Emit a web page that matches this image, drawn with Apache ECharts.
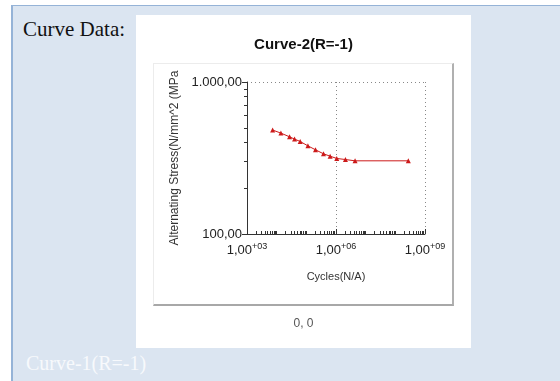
<!DOCTYPE html>
<html>
<head>
<meta charset="utf-8">
<script src="https://cdn.jsdelivr.net/npm/echarts@6/dist/echarts.min.js"></script>
<style>
  html, body { margin: 0; padding: 0; width: 560px; height: 381px; background: #ffffff; overflow: hidden; }
  #bg { position: absolute; left: 11px; top: 5px; width: 547px; height: 376px; background: #dbe5f1;
        border-left: 2px solid #95b3d7; border-top: 1px solid #95b3d7; border-right: 1px solid #cfdcee; }
  .lbl { position: absolute; font-family: "Liberation Serif", "Times New Roman", serif; font-size: 21px; line-height: 24px; white-space: nowrap; }
  #t1 { left: 23px; top: 17px; color: #111; }
  #t2 { left: 26px; top: 351px; color: #f7f9fc; font-size: 20px; }
  #white { position: absolute; left: 136px; top: 15px; width: 335px; height: 333px; background: #ffffff; }
  #inner { position: absolute; left: 153px; top: 63px; width: 298px; height: 240px; background: #ffffff;
           border-top: 1px solid #ececec; border-left: 1px solid #ececec; border-right: 2px solid #b0b0b0; border-bottom: 2px solid #a8a8a8; }
  #chart { position: absolute; left: 136px; top: 15px; width: 335px; height: 333px; }
</style>
</head>
<body>
<div id="bg"></div>
<div class="lbl" id="t1">Curve Data:</div>
<div id="white"></div>
<div id="inner"></div>
<div class="lbl" id="t2">Curve-1(R=-1)</div>
<div id="chart"></div>
<script>
// ---- data ----
const cycles = [7300, 13900, 27200, 40100, 62200, 113000, 204000, 379000, 635000, 1060000, 2080000, 4400000, 274000000];
const stress = [483, 461, 436, 421, 406, 380, 358, 337, 325, 314, 309, 303, 303];
const xTickValues = [1e3, 1e6, 1e9];
const xTickMantissa = ['1,00', '1,00', '1,00'];
const xTickExponent = ['+03', '+06', '+09'];
const yTickValues = [100, 1000];
const yTickLabels = ['100,00', '1.000,00'];
const chartTitle = 'Curve-2(R=-1)';
const xName = 'Cycles(N/A)';
const yName = 'Alternating Stress(N/mm^2 (MPa';
const footText = '0, 0';

// minor tick positions of the log axes (1..9 per decade)
const xMinor = [];
for (let e = 3; e < 9; e++) for (let m = 1; m < 10; m++) xMinor.push(m * Math.pow(10, e));
xMinor.push(1e9);
const yMinor = [];
for (let m = 1; m < 10; m++) yMinor.push(m * 100);
yMinor.push(1000);

function nearestIdx(arr, v) {
  let best = 0, bd = Infinity;
  arr.forEach((a, i) => { const d = Math.abs(Math.log10(a) - Math.log10(v)); if (d < bd) { bd = d; best = i; } });
  return best;
}

const font = '"Liberation Sans", Arial, sans-serif';
const dotted = { color: '#888', type: [1, 3], width: 1 };
const chart = echarts.init(document.getElementById('chart'), null, { renderer: 'canvas' });
chart.setOption({
  animation: false,
  backgroundColor: 'transparent',
  title: {
    text: chartTitle, left: 'center', top: 22, padding: 0,
    textStyle: { fontFamily: font, fontSize: 15, fontWeight: 'bold', color: '#111' }
  },
  grid: { left: 111, right: 46, top: 67, bottom: 114, containLabel: false },
  xAxis: [{
    type: 'log', logBase: 10, min: 1e3, max: 1e9, interval: 3, position: 'bottom',
    name: xName, nameLocation: 'middle', nameGap: 37,
    nameTextStyle: { fontFamily: font, fontSize: 11, color: '#333' },
    axisLine: { show: true, lineStyle: { color: '#333', width: 1 } },
    axisTick: { show: true, inside: true, length: 5, lineStyle: { color: '#333' } },
    splitLine: { show: true, lineStyle: dotted },
    axisLabel: {
      margin: 8, color: '#222', fontFamily: font,
      formatter: function (v) {
        const i = nearestIdx(xTickValues, v);
        return '{m|' + xTickMantissa[i] + '}{e|' + xTickExponent[i] + '}';
      },
      rich: {
        m: { fontFamily: font, fontSize: 13, color: '#222', lineHeight: 16 },
        e: { fontFamily: font, fontSize: 9, color: '#222', lineHeight: 16, padding: [0, 0, 6, 0] }
      }
    }
  }, {
    type: 'log', logBase: 10, min: 1e3, max: 1e9, interval: 3, position: 'bottom',
    axisLine: { show: false },
    axisTick: { show: true, inside: true, length: 3, customValues: xMinor, lineStyle: { color: '#333' } },
    splitLine: { show: false },
    axisLabel: { show: false }
  }],
  yAxis: [{
    type: 'log', logBase: 10, min: 100, max: 1000, interval: 1, position: 'left',
    name: yName, nameLocation: 'middle', nameGap: 66, nameRotate: 90,
    nameTextStyle: { fontFamily: font, fontSize: 12, color: '#333' },
    axisLine: { show: true, lineStyle: { color: '#333', width: 1 } },
    axisTick: { show: true, inside: false, length: 5, lineStyle: { color: '#333' } },
    splitLine: { show: true, lineStyle: dotted },
    axisLabel: {
      margin: 5, color: '#222', fontFamily: font, fontSize: 13,
      formatter: function (v) { return yTickLabels[nearestIdx(yTickValues, v)]; }
    }
  }, {
    type: 'log', logBase: 10, min: 100, max: 1000, interval: 1, position: 'left',
    axisLine: { show: false },
    axisTick: { show: true, inside: false, length: 3, customValues: yMinor, lineStyle: { color: '#333' } },
    splitLine: { show: false },
    axisLabel: { show: false }
  }],
  graphic: [{
    type: 'text', left: 'center', top: 303,
    style: { text: footText, fontFamily: font, fontSize: 12, fill: '#555' }
  }],
  series: [{
    type: 'line', xAxisIndex: 0, yAxisIndex: 0,
    data: cycles.map((c, i) => [c, stress[i]]),
    symbol: 'triangle', symbolSize: 5,
    lineStyle: { color: '#cc1a1a', width: 1 },
    itemStyle: { color: '#cc1a1a' }
  }]
});
</script>
</body>
</html>
